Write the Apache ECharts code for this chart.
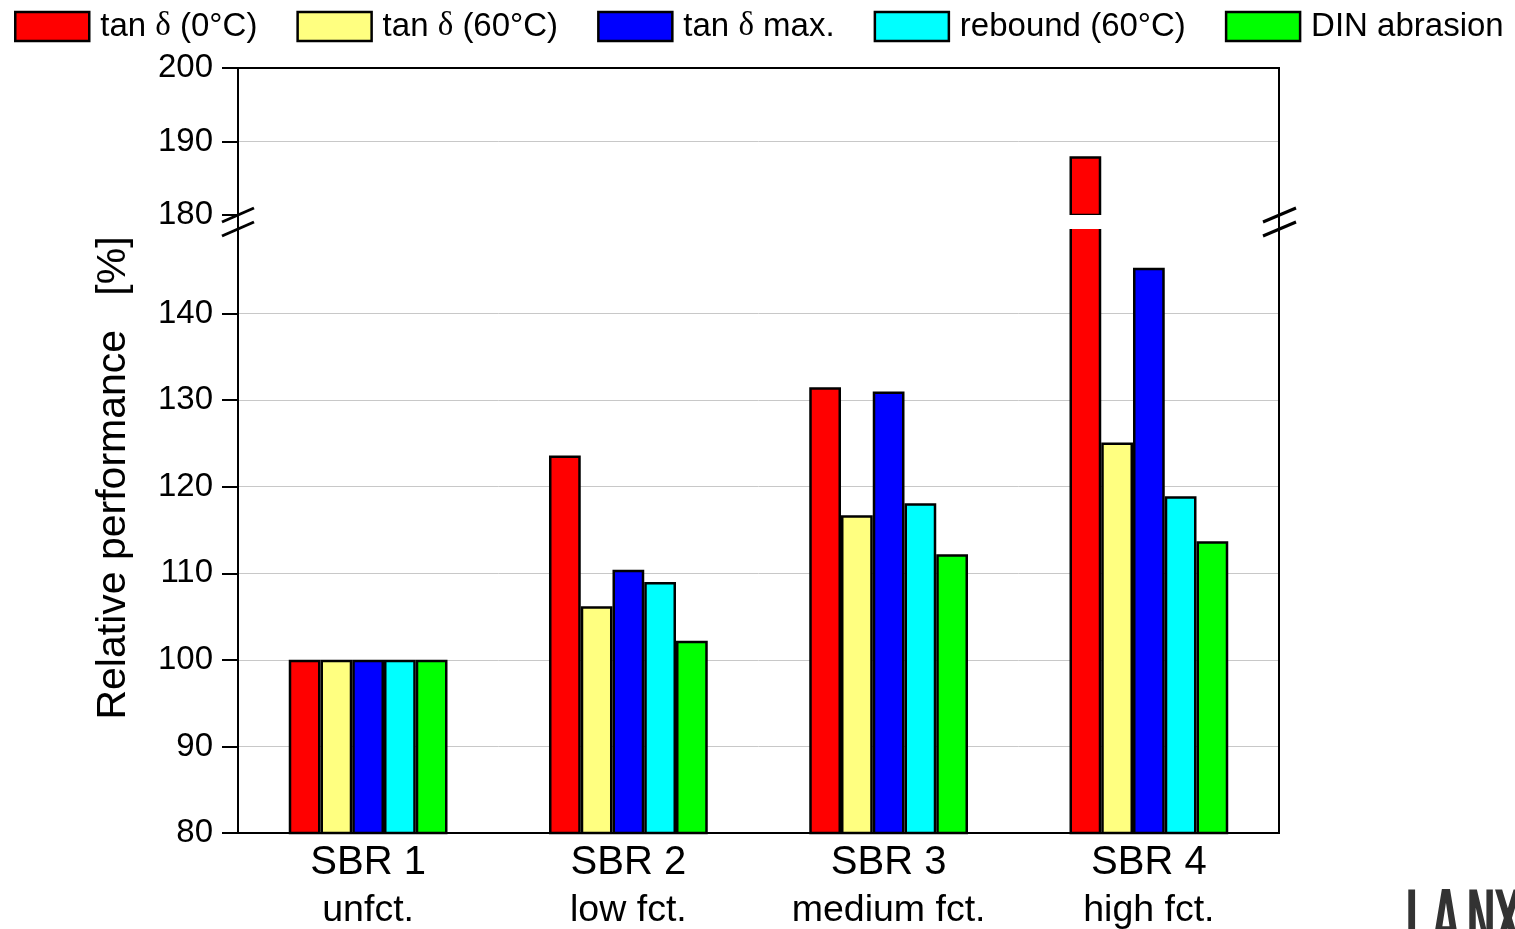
<!DOCTYPE html>
<html>
<head>
<meta charset="utf-8">
<title>Relative performance</title>
<script src="https://cdn.jsdelivr.net/npm/echarts@6/dist/echarts.min.js"></script>
<style>
  html, body { margin: 0; padding: 0; background: #fff; }
  #chart { width: 1515px; height: 929px; }
</style>
</head>
<body>
<div id="chart"></div>
<script>
// categories: compound + degree of functionalization
const compounds = ['SBR 1', 'SBR 2', 'SBR 3', 'SBR 4'];
const functionalization = ['unfct.', 'low fct.', 'medium fct.', 'high fct.'];

// series values (relative performance, %)
const seriesNames = ['tan δ (0°C)', 'tan δ (60°C)', 'tan δ max.', 'rebound (60°C)', 'DIN abrasion'];
const tanD0 = [100, 123.6, 131.5, 188.0];
const tanD60 = [100, 106.2, 116.7, 125.1];
const tanDMax = [100, 110.4, 131.0, 145.3];
const rebound60 = [100, 109.0, 118.1, 118.9];
const dinAbrasion = [100, 102.2, 112.2, 113.7];

// broken value axis: lower and upper part
const lowerRange = [80, 150];
const upperRange = [180, 200];
const tickStep = 10;

const colors = ['#ff0000', '#ffff80', '#0000ff', '#00ffff', '#00ff00'];
const FONT = 'Liberation Sans, Arial, sans-serif';

// frame in pixels
const plotLeft = 238, plotRight = 1279, plotTop = 68, plotBottom = 833;
const upperBottom = 215, lowerTop = 227;

const chart = echarts.init(document.getElementById('chart'));

const values = [tanD0, tanD60, tanDMax, rebound60, dinAbrasion];
const series = [];
values.forEach((vals, i) => {
  const common = {
    name: seriesNames[i],
    type: 'bar',
    barGap: '0%',
    barCategoryGap: '39%',
    itemStyle: { color: colors[i], borderColor: '#000', borderWidth: 2.5 },
    clip: true
  };
  // lower part
  series.push(Object.assign({}, common, { xAxisIndex: 1, yAxisIndex: 1, data: vals }));
  // upper part, only the values that reach above the break
  series.push(Object.assign({}, common, {
    xAxisIndex: 0, yAxisIndex: 0,
    data: vals.map(v => (v >= upperRange[0] ? v : '-'))
  }));
});

const yAxisCommon = {
  type: 'value',
  interval: tickStep,
  axisLine: { show: true, lineStyle: { color: '#000', width: 2 } },
  axisTick: { show: true, inside: false, length: 16, lineStyle: { color: '#000', width: 2 } },
  axisLabel: { color: '#000', fontSize: 33, fontFamily: FONT, margin: 25 },
  splitLine: { show: true, showMinLine: false, showMaxLine: false, lineStyle: { color: '#c8c8c8', width: 1 } }
};

chart.setOption({
  animation: false,
  backgroundColor: '#fff',
  legend: {
    data: seriesNames,
    left: 14,
    top: 10,
    padding: 0,
    itemWidth: 74,
    itemHeight: 29,
    itemGap: 39,
    icon: 'rect',
    itemStyle: { borderColor: '#000', borderWidth: 2.5 },
    formatter: name => name.replace('δ', '{g|δ}'),
    textStyle: {
      color: '#000',
      fontSize: 33,
      fontFamily: FONT,
      padding: [0, 0, 0, 6],
      rich: {
        g: { fontSize: 33, fontFamily: 'Liberation Serif, Times New Roman, serif', color: '#000' }
      }
    }
  },
  grid: [
    { left: plotLeft, right: 1515 - plotRight, top: plotTop, height: upperBottom - plotTop, outerBoundsMode: 'none' },
    { left: plotLeft, right: 1515 - plotRight, top: lowerTop, bottom: 929 - plotBottom, outerBoundsMode: 'none' }
  ],
  xAxis: [
    { type: 'category', gridIndex: 0, data: compounds, show: false },
    {
      type: 'category',
      gridIndex: 1,
      data: compounds,
      axisLine: { show: true, lineStyle: { color: '#000', width: 2 } },
      axisTick: { show: false },
      axisLabel: {
        color: '#000',
        fontFamily: FONT,
        margin: 6,
        formatter: (v, idx) => '{a|' + v + '}\n{b|' + functionalization[idx] + '}',
        rich: {
          a: { fontSize: 40, fontFamily: FONT, color: '#000', lineHeight: 48 },
          b: { fontSize: 37.5, fontFamily: FONT, color: '#000', lineHeight: 48 }
        }
      }
    }
  ],
  yAxis: [
    Object.assign({}, yAxisCommon, {
      gridIndex: 0,
      min: upperRange[0],
      max: upperRange[1]
    }),
    Object.assign({}, yAxisCommon, {
      gridIndex: 1,
      min: lowerRange[0],
      max: lowerRange[1],
      axisLabel: Object.assign({}, yAxisCommon.axisLabel, { showMaxLabel: false })
    })
  ],
  series: series,
  graphic: [
    // white gap across the break
    {
      type: 'rect', z: 50,
      shape: { x: plotLeft + 1, y: upperBottom, width: plotRight - plotLeft - 2, height: lowerTop - upperBottom + 2 },
      style: { fill: '#fff' }
    },
    // hide the tick at the top end of the lower axis
    {
      type: 'rect', z: 50,
      shape: { x: plotLeft - 19, y: lowerTop - 2, width: 18, height: 5 },
      style: { fill: '#fff' }
    },
    // plot frame
    {
      type: 'rect', z: 60,
      shape: { x: plotLeft, y: plotTop, width: plotRight - plotLeft, height: plotBottom - plotTop },
      style: { fill: null, stroke: '#000', lineWidth: 2 }
    },
    // break marks
    { type: 'line', z: 70, shape: { x1: 222, y1: 222, x2: 254, y2: 208 }, style: { stroke: '#000', lineWidth: 3 } },
    { type: 'line', z: 70, shape: { x1: 222, y1: 236, x2: 254, y2: 222 }, style: { stroke: '#000', lineWidth: 3 } },
    { type: 'line', z: 70, shape: { x1: 1263, y1: 222, x2: 1296, y2: 208 }, style: { stroke: '#000', lineWidth: 3 } },
    { type: 'line', z: 70, shape: { x1: 1263, y1: 236, x2: 1296, y2: 222 }, style: { stroke: '#000', lineWidth: 3 } },
    // y axis title
    {
      type: 'text', z: 70,
      x: 114, y: 478,
      rotation: Math.PI / 2,
      style: {
        text: 'Relative performance   [%]',
        fontSize: 41,
        fontFamily: FONT,
        fill: '#000',
        align: 'center',
        verticalAlign: 'middle'
      }
    },
    // logo, cut by the picture edge
    {
      type: 'group', z: 70,
      children: ['L', 'A', 'N', 'X'].map((ch, k) => ({
        type: 'text',
        x: [1405, 1432, 1466, 1494][k], y: 887,
        scaleX: 0.45,
        style: {
          text: ch,
          fontSize: 80,
          fontWeight: 'bold',
          fontFamily: 'DejaVu Sans, sans-serif',
          fill: '#333',
          align: 'left',
          verticalAlign: 'top'
        }
      }))
    }
  ]
});
</script>
</body>
</html>
